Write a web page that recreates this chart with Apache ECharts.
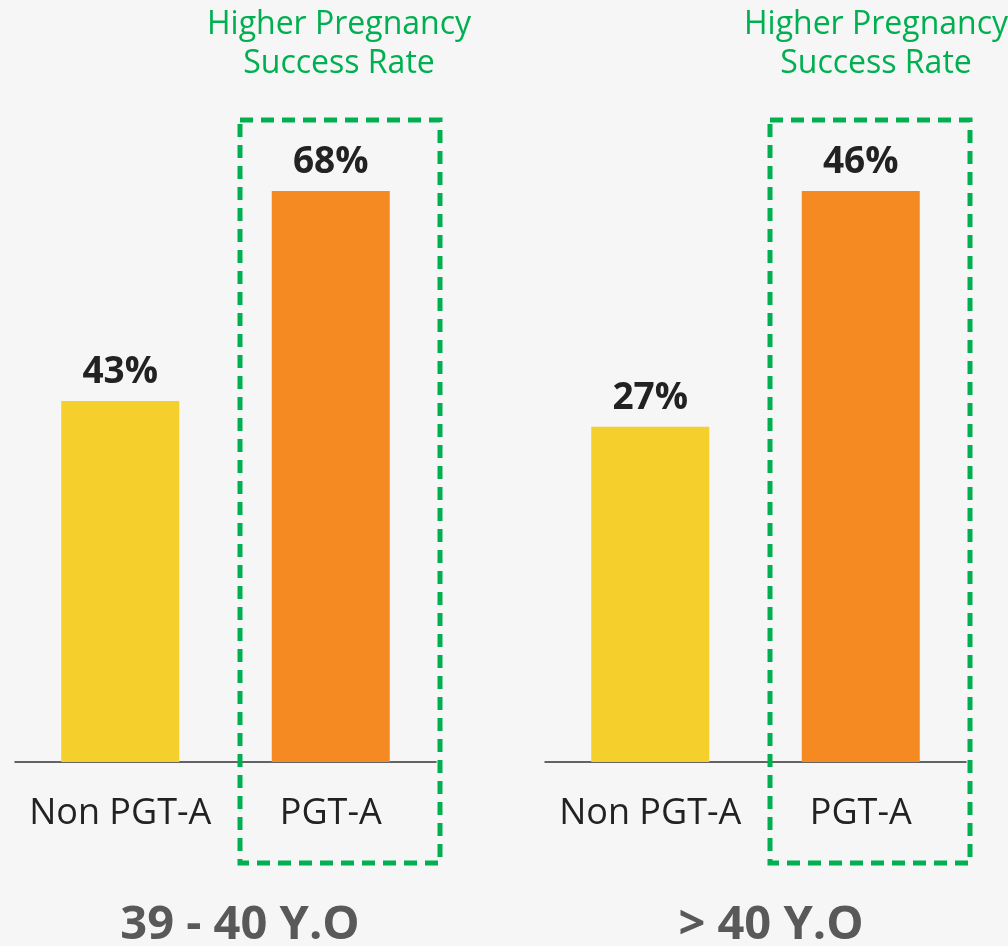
<!DOCTYPE html>
<html lang="en">
<head>
  <meta charset="UTF-8">
  <title>PGT-A success rate</title>
  <script src="https://cdn.jsdelivr.net/npm/echarts@6/dist/echarts.min.js"></script>
  <style>
    html,body{padding:0;margin:0;background:#f6f6f6;}
    #chart{width:1008px;height:946px;}
  </style>
</head>
<body>
  <div id="chart"></div>
  <script>
    const categories = ['Non PGT-A', 'PGT-A']
    const groups = ['39 - 40 Y.O', '> 40 Y.O']
    const rates39to40 = [43, 68]
    const ratesOver40 = [27, 46]
    const highlightText = 'Higher Pregnancy\nSuccess Rate'

    const barColors = ['#f5cf2b', '#f58a22']
    const font = 'Open Sans'

    const panels = [
      {left: 15, data: rates39to40, name: groups[0], titleX: 235, boxX: 238, noteX: 334},
      {left: 545, data: ratesOver40, name: groups[1], titleX: 766, boxX: 768, noteX: 871}
    ]

    let option = {
      backgroundColor: '#f6f6f6',
      textStyle: {fontFamily: font},
      title: [],
      grid: [],
      xAxis: [],
      yAxis: [],
      series: [],
      graphic: []
    }

    panels.forEach((p, i) => {
      option.grid.push({left: p.left, width: 421, top: 191, bottom: 184})
      option.xAxis.push({
        type: 'category',
        gridIndex: i,
        data: categories,
        axisLine: {lineStyle: {color: '#333', width: 1.5}},
        axisTick: {show: false},
        axisLabel: {interval: 0, color: '#222', fontSize: 36, fontFamily: font, margin: 34}
      })
      option.yAxis.push({
        type: 'value',
        gridIndex: i,
        min: 0,
        max: Math.max(...p.data),
        show: false,
        splitLine: {show: false}
      })
      option.series.push({
        type: 'bar',
        xAxisIndex: i,
        yAxisIndex: i,
        barWidth: 118,
        data: p.data.map((v, k) => ({value: v, itemStyle: {color: barColors[k]}})),
        label: {
          show: true,
          position: 'top',
          distance: 10,
          formatter: '{c}%',
          color: '#222',
          fontSize: 37,
          fontWeight: 'bold',
          fontFamily: font
        }
      })
      option.title.push({
        text: highlightText,
        left: p.noteX,
        top: 0,
        textAlign: 'center',
        textStyle: {color: '#00b050', fontSize: 32, fontWeight: 'normal', fontFamily: font, lineHeight: 39}
      })
      option.title.push({
        text: p.name,
        left: p.titleX,
        top: 897,
        textAlign: 'center',
        textStyle: {color: '#595959', fontSize: 47, fontWeight: 'bold', fontFamily: font}
      })
      option.graphic.push({
        type: 'rect',
        shape: {x: p.boxX + 2, y: 120, width: 200, height: 743},
        style: {fill: 'none', stroke: '#00b050', lineWidth: 5, lineDash: [13, 8]},
        z: 10
      })
    })

    let myChart = echarts.init(document.getElementById('chart'))
    myChart.setOption(option)
  </script>
</body>
</html>
